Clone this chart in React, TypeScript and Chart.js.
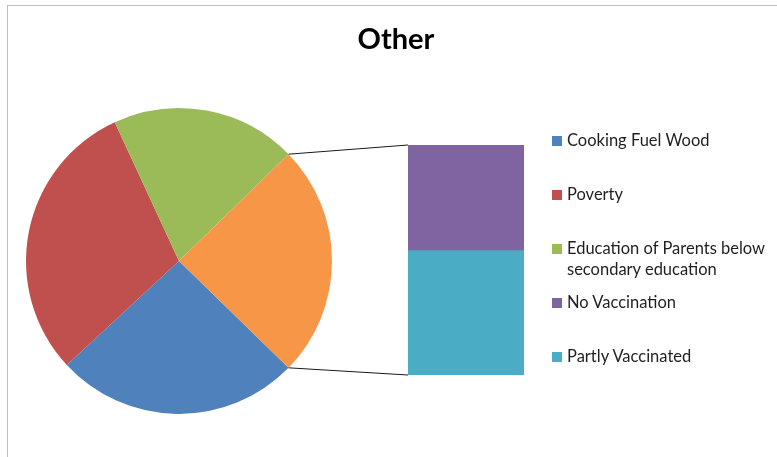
import React, { useEffect, useRef } from "react";
import { Chart, registerables } from "chart.js";

Chart.register(...registerables);

const titleText = "Other";
const pieLabels = ["Cooking Fuel Wood", "Poverty", "Education of Parents below secondary education"];
const pieValues = [25.8, 30.0, 19.6];
const pieColors = ["#4F81BD", "#C0504D", "#9BBB59"];
const otherLabel = "Other";
const otherColor = "#F79646";
const barLabels = ["No Vaccination", "Partly Vaccinated"];
const barValues = [11.3, 13.3];
const barColors = ["#8064A2", "#4BACC6"];
const legendLines = [
  ["Cooking Fuel Wood"],
  ["Poverty"],
  ["Education of Parents below", "secondary education"],
  ["No Vaccination"],
  ["Partly Vaccinated"],
];
const legendColors = [...pieColors, ...barColors];

const FONT = "Lato, 'Open Sans', sans-serif";

export default function App() {
  const pieRef = useRef<HTMLCanvasElement>(null);
  const barRef = useRef<HTMLCanvasElement>(null);

  useEffect(() => {
    const otherTotal = barValues.reduce((a, b) => a + b, 0);
    const total = pieValues.reduce((a, b) => a + b, 0) + otherTotal;

    const bar = new Chart(barRef.current!, {
      type: "bar",
      data: {
        labels: [otherLabel],
        datasets: [
          {
            label: barLabels[1],
            data: [barValues[1]],
            backgroundColor: barColors[1],
            borderWidth: 0,
            barPercentage: 1,
            categoryPercentage: 1,
          },
          {
            label: barLabels[0],
            data: [barValues[0]],
            backgroundColor: barColors[0],
            borderWidth: 0,
            barPercentage: 1,
            categoryPercentage: 1,
          },
        ],
      },
      options: {
        responsive: false,
        animation: false,
        events: [],
        layout: { padding: 0 },
        plugins: { legend: { display: false }, tooltip: { enabled: false }, title: { display: false } },
        scales: {
          x: { display: false, stacked: true },
          y: { display: false, stacked: true, min: 0, max: otherTotal },
        },
      },
    });

    const connectors = {
      id: "connectors",
      afterDraw(chart: any) {
        const arc: any = chart.getDatasetMeta(0).data[3];
        if (!arc) return;
        const { x, y, startAngle, endAngle, outerRadius } = arc.getProps(
          ["x", "y", "startAngle", "endAngle", "outerRadius"],
          true
        );
        const pr = chart.canvas.getBoundingClientRect();
        const br = bar.canvas.getBoundingClientRect();
        const ox = br.left - pr.left;
        const oy = br.top - pr.top;
        const topEl: any = bar.getDatasetMeta(1).data[0];
        const botEl: any = bar.getDatasetMeta(0).data[0];
        const left = ox + topEl.x - topEl.width / 2;
        const top = oy + topEl.y;
        const bottom = oy + botEl.base;
        const ctx = chart.ctx;
        ctx.save();
        ctx.strokeStyle = "#1a1a1a";
        ctx.lineWidth = 1;
        ctx.beginPath();
        ctx.moveTo(x + outerRadius * Math.cos(startAngle), y + outerRadius * Math.sin(startAngle));
        ctx.lineTo(left, top);
        ctx.moveTo(x + outerRadius * Math.cos(endAngle), y + outerRadius * Math.sin(endAngle));
        ctx.lineTo(left, bottom);
        ctx.stroke();
        ctx.restore();
      },
    };

    const pie = new Chart(pieRef.current!, {
      type: "pie",
      data: {
        labels: [...pieLabels, otherLabel],
        datasets: [
          {
            data: [...pieValues, otherTotal],
            backgroundColor: [...pieColors, otherColor],
            borderWidth: 0,
            hoverOffset: 0,
            offset: 0,
          },
        ],
      },
      options: {
        responsive: false,
        animation: false,
        events: [],
        rotation: 90 + (otherTotal / total) * 180,
        layout: { padding: { left: 26, right: 445, top: 108, bottom: 43 } },
        plugins: { legend: { display: false }, tooltip: { enabled: false }, title: { display: false } },
      },
      plugins: [connectors],
    });

    return () => {
      pie.destroy();
      bar.destroy();
    };
  }, []);

  return (
    <div style={{ position: "fixed", left: 0, top: 0, width: 777, height: 457, overflow: "hidden", background: "#fff" }}>
      <div
        style={{
          position: "absolute",
          left: 7,
          top: 5,
          width: 900,
          height: 600,
          border: "1px solid #bfbfbf",
        }}
      />
      <canvas ref={pieRef} width={777} height={457} style={{ position: "absolute", left: 0, top: 0, width: 777, height: 457 }} />
      <canvas ref={barRef} width={116} height={230} style={{ position: "absolute", left: 408, top: 145, width: 116, height: 230 }} />
      <div
        style={{
          position: "absolute",
          left: 296,
          width: 200,
          top: 21,
          textAlign: "center",
          fontFamily: FONT,
          fontWeight: 700,
          fontSize: 29,
          lineHeight: "34px",
          color: "#000",
        }}
      >
        {titleText}
      </div>
      {legendLines.map((lines, i) => (
        <div
          key={i}
          style={{
            position: "absolute",
            left: 552,
            top: 139 + i * 54 - 9,
            fontFamily: FONT,
            fontSize: 16.5,
            lineHeight: "21px",
            color: "#1f1f1f",
            whiteSpace: "nowrap",
          }}
        >
          <span
            style={{
              position: "absolute",
              left: 0,
              top: 6,
              width: 10,
              height: 10,
              background: legendColors[i],
            }}
          />
          <div style={{ marginLeft: 15 }}>
            {lines.map((l, j) => (
              <div key={j}>{l}</div>
            ))}
          </div>
        </div>
      ))}
    </div>
  );
}
